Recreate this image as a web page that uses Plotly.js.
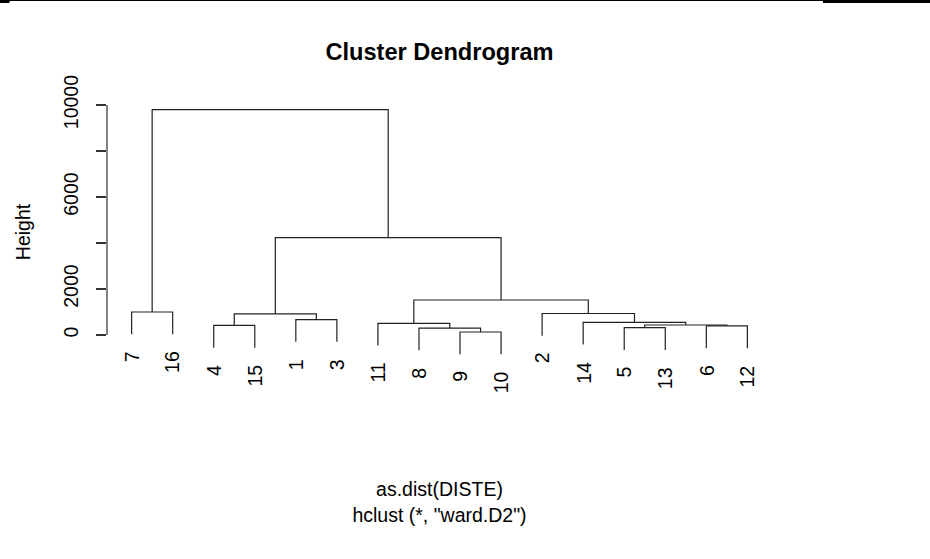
<!DOCTYPE html>
<html><head><meta charset="utf-8">
<script src="https://cdn.plot.ly/plotly-3.0.1.min.js"></script>
<style>html,body{margin:0;padding:0;background:#fff}#chart{width:930px;height:559px}</style>
</head><body><div id="chart"></div>
<script>
// leaf labels in dendrogram order (left to right)
const leafLabels = ['7','16','4','15','1','3','11','8','9','10','2','14','5','13','6','12'];
// merge steps (R hclust style): negative = observation, positive = earlier merge
const mergeLeft  = [-9, -8, -5, -6, -4, 3, -11, -14, -1, 5, -2, -7, 7, 10, 12];
const mergeRight = [-10, 1, -13, -12, -15, 4, 2, 6, -3, 9, 8, -16, 11, 13, 14];
const mergeHeight = [130, 300, 320, 395, 415, 435, 505, 550, 670, 920, 935, 1000, 1522, 4230, 9800];
const yTickVals = [0, 2000, 4000, 6000, 8000, 10000];
const yTickText = ['0', '2000', '', '6000', '', '10000'];

const FONT = 'Liberation Sans, Arial, Helvetica, sans-serif';
const FS = 19.5;
const hMax = Math.max(...mergeHeight), hMin = Math.min(...mergeHeight);
const hang = 0.1 * (hMax - hMin);

const leafPos = {};
leafLabels.forEach((l, i) => { leafPos[l] = i + 1; });
const mergeX = [];
const leafEnd = {};
const xs = [], ys = [];
function childX(ref) { return ref < 0 ? leafPos[String(-ref)] : mergeX[ref - 1]; }
function childY(ref, h) {
  if (ref < 0) { leafEnd[String(-ref)] = h - hang; return h - hang; }
  return mergeHeight[ref - 1];
}
for (let i = 0; i < mergeHeight.length; i++) {
  const h = mergeHeight[i];
  const xl = childX(mergeLeft[i]), xr = childX(mergeRight[i]);
  const yl = childY(mergeLeft[i], h), yr = childY(mergeRight[i], h);
  mergeX.push((xl + xr) / 2);
  xs.push(xl, xl, xr, xr, null);
  ys.push(yl, h, h, yr, null);
}

const L = 107, R = 158, T = 94, B = 189, W = 930 - L - R, PH = 559 - T - B;
const px = v => (v - L) / W;
const py = v => (559 - B - v) / PH;

const annotations = leafLabels.map(l => ({
  x: leafPos[l], y: leafEnd[l], xref: 'x', yref: 'y',
  text: l, showarrow: false, textangle: -90,
  xanchor: 'center', yanchor: 'top', yshift: -15,
  font: {family: FONT, size: FS, color: '#000'}
}));

const shapes = [
  {type: 'line', xref: 'paper', yref: 'y', x0: 0, x1: 0, y0: 0, y1: 10000,
   line: {color: '#333', width: 1.2}},
  {type: 'line', xref: 'paper', yref: 'paper', x0: px(9), x1: px(823), y0: py(0.5), y1: py(0.5),
   line: {color: '#000', width: 1}},
  {type: 'rect', xref: 'paper', yref: 'paper', x0: px(0), x1: px(9.5), y0: py(0), y1: py(3),
   fillcolor: '#000', line: {width: 0}},
  {type: 'rect', xref: 'paper', yref: 'paper', x0: px(823), x1: px(930), y0: py(0), y1: py(3),
   fillcolor: '#000', line: {width: 0}}
];

const trace = {
  x: xs, y: ys, type: 'scatter', mode: 'lines',
  line: {color: '#222', width: 1.2}, hoverinfo: 'skip', cliponaxis: false
};

const layout = {
  width: 930, height: 559,
  margin: {l: L, r: R, t: T, b: B},
  paper_bgcolor: '#fff', plot_bgcolor: '#fff',
  showlegend: false,
  font: {family: FONT, size: FS, color: '#000'},
  title: {text: 'Cluster Dendrogram', x: 0.5, xref: 'paper', y: 1 - 52 / 559, yref: 'container',
          yanchor: 'middle', font: {family: FONT, size: 23.6, weight: 'bold', color: '#000'}},
  xaxis: {range: [0.4, 16.6], showticklabels: false, ticks: '', showgrid: false, zeroline: false,
          showline: false, automargin: false,
          title: {text: 'as.dist(DISTE)<br>hclust (*, "ward.D2")', standoff: 112,
                  font: {family: FONT, size: FS, color: '#000'}}},
  yaxis: {range: [-1522, 10478], tickvals: yTickVals, ticktext: yTickText, ticks: 'outside',
          ticklen: 10, tickwidth: 1.2, tickcolor: '#333', showgrid: false, zeroline: false,
          showline: false, tickangle: -90, automargin: false, ticklabelstandoff: 10,
          tickfont: {family: FONT, size: FS, color: '#000'},
          title: {text: 'Height', standoff: 24, font: {family: FONT, size: FS, color: '#000'}}},
  annotations: annotations,
  shapes: shapes
};
Plotly.newPlot('chart', [trace], layout, {displayModeBar: false, staticPlot: true});
</script></body></html>
